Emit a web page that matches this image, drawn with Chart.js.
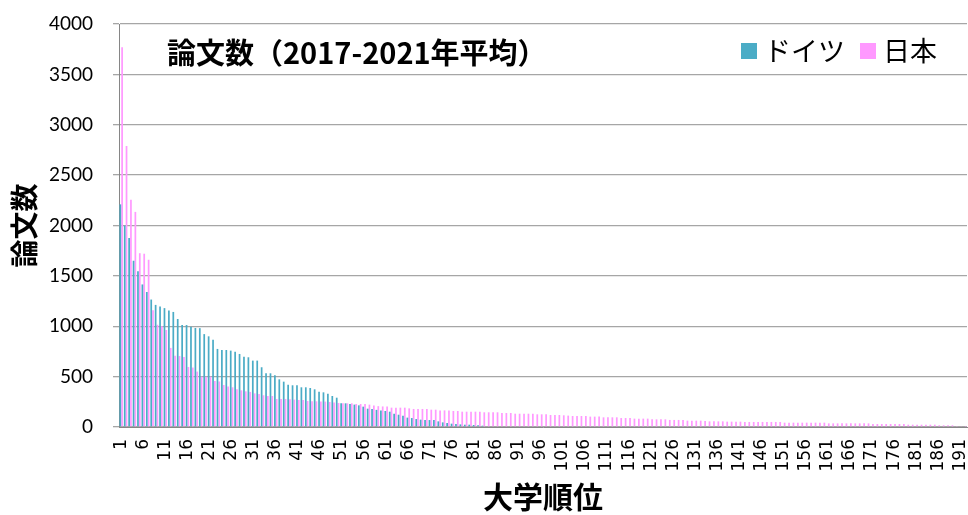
<!DOCTYPE html>
<html>
<head>
<meta charset="utf-8">
<script src="https://cdn.jsdelivr.net/npm/chart.js@4.4.1/dist/chart.umd.min.js"></script>
<style>
  html, body { margin: 0; padding: 0; background: #fff; }
  #wrap { width: 968px; height: 515px; }
</style>
</head>
<body>
<div id="wrap"><canvas id="chart"></canvas></div>
<script>
// university rank 1..192
const ranks = Array.from({ length: 192 }, (_, i) => String(i + 1));

// papers per year, Germany (ranked universities)
const germany = [
  2210, 2000, 1875, 1650, 1545, 1415, 1340, 1265, 1212, 1195,
  1180, 1157, 1142, 1072, 1012, 1012, 996, 983, 981, 922,
  900, 865, 775, 764, 764, 758, 748, 725, 698, 692,
  659, 659, 593, 533, 533, 513, 473, 450, 420, 414,
  414, 394, 394, 387, 374, 351, 344, 331, 308, 291,
  235, 235, 228, 222, 215, 202, 182, 178, 170, 165,
  159, 152, 132, 122, 112, 93, 89, 79, 73, 69,
  69, 69, 56, 46, 40, 33, 30, 26, 23, 23,
  20, 17, 13
];

// papers per year, Japan (ranked universities)
const japan = [
  3770, 2790, 2255, 2135, 1725, 1720, 1660, 1160, 1015, 1000,
  963, 785, 707, 705, 695, 596, 590, 550, 500, 500,
  500, 457, 452, 417, 402, 394, 374, 364, 354, 348,
  334, 328, 315, 308, 308, 278, 278, 278, 275, 272,
  268, 268, 258, 255, 255, 252, 252, 248, 242, 238,
  235, 235, 235, 228, 228, 228, 222, 214, 207, 204,
  204, 192, 192, 192, 192, 185, 179, 179, 179, 179,
  172, 172, 165, 165, 165, 159, 159, 152, 152, 152,
  152, 152, 146, 146, 146, 146, 139, 139, 139, 132,
  132, 132, 132, 132, 126, 126, 126, 119, 119, 119,
  116, 113, 109, 109, 109, 109, 103, 103, 103, 96,
  96, 96, 96, 89, 89, 89, 83, 83, 83, 83,
  76, 76, 76, 76, 70, 70, 70, 70, 63, 63,
  63, 63, 60, 56, 56, 56, 56, 53, 53, 53,
  53, 50, 50, 50, 50, 50, 50, 50, 50, 50,
  43, 43, 43, 43, 43, 43, 43, 43, 43, 43,
  36, 36, 36, 36, 36, 36, 36, 36, 36, 36,
  30, 30, 30, 30, 30, 30, 30, 30, 23, 23,
  23, 23, 23, 23, 23, 17, 17, 17, 17, 10,
  8, 3
];

const seriesNames = ["ドイツ", "日本"];
const seriesColors = ["#4bacc6", "#ff99ff"];
const chartTitle = "論文数（2017-2021年平均）";
const yTitle = "論文数";
const xTitle = "大学順位";

const JP = "'Noto Sans CJK JP', 'Noto Sans', sans-serif";

// title and legend sit inside the plot area, so draw them here
const insideLabels = {
  id: "insideLabels",
  afterDraw(chart) {
    const ctx = chart.ctx;
    ctx.save();
    ctx.fillStyle = "#000";
    ctx.textBaseline = "middle";
    ctx.font = "bold 29px " + JP;
    ctx.fillText(chartTitle, 167, 53);

    ctx.font = "27px " + JP;
    let x = 741;
    chart.data.datasets.forEach(ds => {
      ctx.fillStyle = ds.backgroundColor;
      ctx.fillRect(x, 43, 16, 16);
      x += 23;
      ctx.fillStyle = "#000";
      ctx.fillText(ds.label, x, 51);
      x += ctx.measureText(ds.label).width + 15;
    });
    ctx.restore();
  }
};

new Chart(document.getElementById("chart"), {
  type: "bar",
  data: {
    labels: ranks,
    datasets: [
      { label: seriesNames[0], data: germany, backgroundColor: seriesColors[0] },
      { label: seriesNames[1], data: japan, backgroundColor: seriesColors[1] }
    ]
  },
  options: {
    responsive: true,
    maintainAspectRatio: false,
    animation: false,
    datasets: { bar: { categoryPercentage: 0.82, barPercentage: 0.95 } },
    layout: { padding: { top: 24, right: 1, left: 0, bottom: 0 } },
    plugins: {
      tooltip: { enabled: false },
      legend: { display: false }
    },
    scales: {
      x: {
        grid: { display: false, drawTicks: false },
        border: { display: true, color: "#868686", width: 1 },
        ticks: {
          autoSkip: false,
          minRotation: 90,
          maxRotation: 90,
          padding: 12,
          color: "#000",
          font: { family: "'DejaVu Sans'", size: 17 },
          callback: (val, i) => (i % 5 === 0 ? ranks[i] : "")
        },
        title: {
          display: true,
          text: xTitle,
          color: "#000",
          font: { family: JP, size: 30, weight: "bold", lineHeight: 1.2 },
          padding: 0
        },
        afterFit: s => {
          s.height = 88;
          s.paddingLeft = 0;
          s.paddingRight = 0;
        }
      },
      y: {
        min: 0,
        max: 4000,
        grid: { color: "#a6a6a6", lineWidth: 1.3, tickLength: 6, tickColor: "#a6a6a6" },
        border: { display: true, color: "#868686", width: 1 },
        ticks: {
          stepSize: 500,
          padding: 20,
          color: "#000",
          font: { family: "Lato", size: 19 },
          callback: val => String(val)
        },
        title: {
          display: true,
          text: yTitle,
          color: "#000",
          font: { family: JP, size: 28, weight: "bold", lineHeight: 1.2 },
          padding: { top: 8, bottom: 0 }
        },
        afterFit: s => {
          s.width = 119;
          s.paddingTop = 0;
          s.paddingBottom = 0;
        }
      }
    }
  },
  plugins: [insideLabels]
});
</script>
</body>
</html>
